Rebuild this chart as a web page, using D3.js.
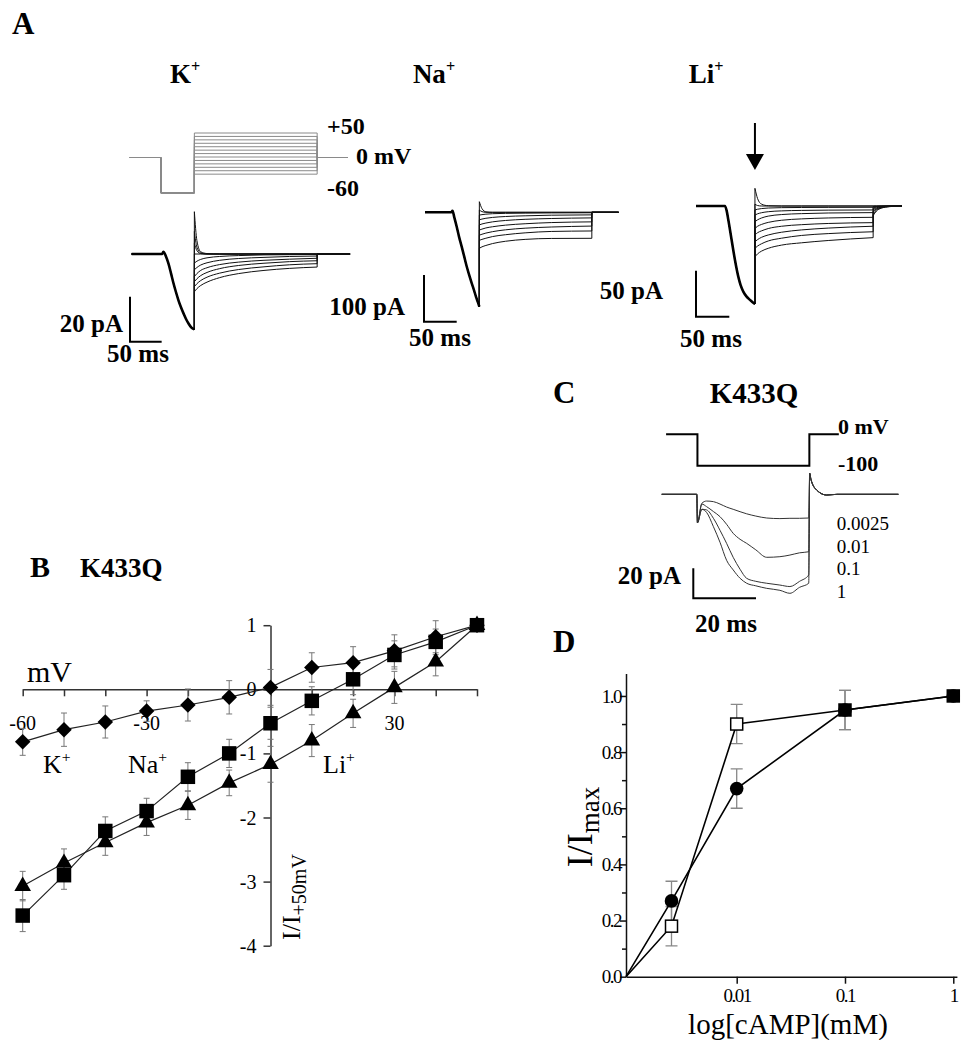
<!DOCTYPE html>
<html><head><meta charset="utf-8">
<script src="https://cdn.jsdelivr.net/npm/d3@7"></script>
<style>
body{margin:0;background:#fff}
svg{display:block}
text{font-family:"Liberation Serif","Times New Roman",serif;fill:#000}
</style>
</head><body>
<svg id="fig" width="962" height="1040"></svg>
<script>
// ================= DATA =================
// ---- Panel A : K+ ----
const kStepVolt = [50,43,36,29,22,15,8,1,-6,-13,-20,-27,-34];   // mV step family
const kPrepulse = -72;
const kProtoT = [-3, 46, 99, 293, 341];                          // ms
const kActT = [0,48,50,54,58,62,66,70,74,78,82,86,90,94,99];
const kActI = [0,0,1,-1,-4.2,-8.5,-13,-17,-20.7,-23.8,-26.5,-29,-31,-32.6,-33.5];
const kStepT = 99, kEndT = 293, kStopT = 345;
const kTailDt = [0,4,10,20,40,70,110,150,194];
const kTails = [
  [18.8,6,1,0.2,0,0,0,0,0],
  [10,3,0.5,0,0,0,0,0,0],
  [4.9,1.5,0.2,0,0,0,0,0,0],
  [0,0,0,0,0,0,0,0,0],
  [-4,-3.2,-2.4,-1.7,-1.1,-0.7,-0.4,-0.3,-0.2],
  [-7,-6,-4.9,-3.9,-2.8,-2,-1.5,-1.1,-0.9],
  [-10,-8.7,-7.3,-6.1,-4.7,-3.6,-2.8,-2.3,-1.9],
  [-12.3,-11,-9.6,-8.2,-6.5,-5.1,-4.1,-3.4,-3],
  [-14.5,-13.2,-11.8,-10.3,-8.5,-6.9,-5.7,-4.8,-4.3],
  [-16.8,-15.4,-14,-12.5,-10.5,-8.7,-7.3,-6.4,-5.8]
];
// ---- Panel A : Na+ ----
const naActT = [0,40,42,45,48.5,52,56.2,60,63.8,67.5,71.5,75,78,81,83.1];
const naActI = [0,0,3,-12,-31,-52,-74,-95,-116,-134,-152,-167,-181,-193,-202];
const naStepT = 83.1, naEndT = 255.1, naStopT = 296;
const naTailDt = [0,4,10,20,40,70,110,172];
const naTails = [
  [22.7,8,1,0,0,0,0,0],
  [5,1.5,0,0,0,0,0,0],
  [-6,-5,-4,-3,-2.3,-1.8,-1.3,-1],
  [-16,-14.5,-12.8,-11,-9,-7.5,-6.2,-5.5],
  [-27,-25,-23,-20.5,-17.5,-15,-13.3,-12],
  [-38,-36,-33.5,-31,-27.5,-24.5,-22,-20.5],
  [-49,-47,-44.5,-41.5,-37.5,-34,-31.5,-29.5],
  [-60,-58,-55.5,-52,-48,-44,-41,-40],
  [-77,-74,-71,-67,-62,-58,-56,-55.7]
];
// ---- Panel A : Li+ ----
const liActT = [0,43.5,46,48.5,53.5,58.5,63.5,67,71,76,81,85,88.5];
const liActI = [0,0,-5,-15,-37,-58.7,-76.8,-86,-93,-98.5,-102,-104.5,-106.5];
const liStepT = 88.5, liEndT = 266, liStopT = 309;
const liTailDt = [0,4,10,20,40,70,110,177.5];
const liTails = [
  [19.2,8,2,0.3,0,0,0,0],
  [2,0.5,0,0,0,0,0,0],
  [-4.3,-3.5,-2.8,-2.2,-1.8,-1.6,-1.5,-1.4],
  [-9.8,-8.5,-7.3,-6.2,-5.3,-4.8,-4.5,-4.3],
  [-17,-15,-13,-11,-9.3,-8.3,-7.6,-7.2],
  [-24.3,-22,-20,-17.8,-15.5,-14,-13,-12.3],
  [-31.5,-29,-27,-24.5,-22,-20.3,-19,-18.1],
  [-38.8,-36.5,-34,-31.5,-28.5,-26,-24,-22],
  [-46,-43.5,-41,-38,-35,-32,-30,-28],
  [-55,-52,-49,-46,-42.5,-40,-37.5,-34.4]
];
const liOffDt = [0,5,12,25,42.5];
const liOffFrac = [0.3,0.16,0.07,0.02,0];

// ---- Panel B : I-V (K433Q) ----
const ivVoltages = [-60,-50,-40,-30,-20,-10,0,10,20,30,40,50];
const ivK   = [-0.82,-0.63,-0.51,-0.34,-0.245,-0.125,0.03,0.34,0.415,0.60,0.82,1.0];
const ivKErr= [0.21,0.26,0.25,0.16,0.25,0.26,0.28,0.23,0.25,0.25,0.25,0];
const ivNa  = [-3.53,-2.9,-2.21,-1.9,-1.365,-1.0,-0.53,-0.18,0.156,0.536,0.74,1.0];
const ivNaErr=[0.25,0.22,0.22,0.2,0.22,0.22,0.25,0.22,0.24,0.22,0.2,0];
const ivLi  = [-3.07,-2.71,-2.39,-2.08,-1.81,-1.46,-1.17,-0.80,-0.375,0.03,0.43,1.0];
const ivLiErr=[0.23,0.22,0.2,0.2,0.22,0.2,0.28,0.25,0.22,0.25,0.22,0];
const ivXTickLabels = [-60,-30,30];
const ivYTicks = [1,0,-1,-2,-3,-4];

// ---- Panel C : cAMP traces ----
const cT = [0,11.2,11.4,12.8,14.3,16.5,18.6,20.7,22.8,25,27.1,30,33.5,37.7,40.9,44,46.9,47.2,47.6,49.4,52.6,56,75.5];
const cTraces = [
  [0,0,-19,-6,-4.5,-4.9,-6.5,-8.5,-10,-11.6,-13,-14.5,-15.8,-16.2,-16,-16,-15.8,14,10,2.9,-0.5,0,0],
  [0,0,-19,-6.5,-8.2,-11.5,-14.9,-20,-26,-30,-32.7,-37,-42,-41.6,-40.5,-39,-38.3,14,10,2.9,-0.5,0,0],
  [0,0,-19,-10,-10.4,-16,-24,-32.7,-42,-50,-56,-58,-59.3,-60.5,-61.5,-58,-53.8,14,10,2.9,-0.5,0,0],
  [0,0,-19,-10,-12,-21.6,-32,-44,-50.4,-56,-59.3,-61,-62.7,-64,-66,-62,-59.3,14,10,2.9,-0.5,0,0]
];
const cLabels = ["0.0025","0.01","0.1","1"];
const cVoltT = [1.4,11.4,11.4,47.1,47.1,56.5];
const cVoltV = [0,0,-100,-100,0,0];

// ---- Panel D : dose-response ----
const camp = [0,0.0025,0.01,0.1,1];
const dFilled = [0,0.27,0.67,0.95,1.0];
const dFilledErr = [0,0.07,0.07,0.07,0.015];
const dOpen = [0,0.18,0.90,0.95,1.0];
const dOpenErr = [0,0.07,0.07,0.07,0.015];
const dYTicks = [0,0.2,0.4,0.6,0.8,1.0];
const dYMinor = [0.1,0.3,0.5,0.7,0.9];
const dXTicks = [0.01,0.1,1];

// ================= DRAWING =================
const svg = d3.select("#fig");
svg.append("rect").attr("width",962).attr("height",1040).attr("fill","#fff");

function txt(g,x,y,s,size,weight,anchor){
  return g.append("text").attr("x",x).attr("y",y).attr("font-size",size)
    .attr("font-weight",weight||"normal").attr("text-anchor",anchor||"start").text(s);
}
function supText(g,x,y,base,sup,size,weight,anchor){
  const t=g.append("text").attr("x",x).attr("y",y).attr("font-size",size)
    .attr("font-weight",weight||"normal").attr("text-anchor",anchor||"start");
  t.append("tspan").text(base);
  t.append("tspan").attr("font-size",size*0.6).attr("dy",-size*0.42).text(sup);
  return t;
}

// ---------- Panel A ----------
const gA = svg.append("g");
txt(gA,12,34,"A",31,"bold");
supText(gA,185,83,"K","+",27,"bold","middle");
supText(gA,434,83,"Na","+",27,"bold","middle");
supText(gA,706,83,"Li","+",27,"bold","middle");

function drawTraces(g,x,y,actT,actI,stepT,tailDt,tails,endT,stopT,offDt,offFrac){
  const mono=d3.line().x(d=>x(d[0])).y(d=>y(d[1])).curve(d3.curveMonotoneX);
  const lin=d3.line().x(d=>x(d[0])).y(d=>y(d[1]));
  const act=actT.map((t,i)=>[t,actI[i]]);
  const last=act[act.length-1];
  tails.forEach(tail=>{
    const tp=tailDt.map((dt,i)=>[stepT+dt,tail[i]]);
    const tl=tp[tp.length-1];
    let d=mono(act)+lin([last,tp[0]])+mono(tp);
    if(offDt){
      const op=offDt.map((dt,k)=>[endT+dt,tl[1]*offFrac[k]]);
      d+=lin([tl,op[0]])+mono(op)+lin([op[op.length-1],[stopT,0]]);
    } else {
      d+=lin([tl,[endT,0],[stopT,0]]);
    }
    g.append("path").attr("d",d).attr("fill","none").attr("stroke","#111").attr("stroke-width",1);
  });
  g.append("path").attr("d",mono(act)).attr("fill","none").attr("stroke","#000").attr("stroke-width",2.6);
}
function scaleBar(g,x0,yTop,vLen,hLen){
  g.append("path").attr("d",`M${x0},${yTop}V${yTop+vLen}H${x0+hLen}`)
    .attr("fill","none").attr("stroke","#000").attr("stroke-width",2);
}

// K+ voltage protocol
const xK = d3.scaleLinear().domain([0,50]).range([131.7,163.35]);
const yK = d3.scaleLinear().domain([0,20]).range([254,209]);
const yVK = d3.scaleLinear().domain([0,50]).range([157.5,133]);
const protoLine = d3.line().x(d=>xK(d[0])).y(d=>yVK(d[1]));
kStepVolt.forEach(v=>{
  const p=[[kProtoT[0],0],[kProtoT[1],0],[kProtoT[1],kPrepulse],[kProtoT[2],kPrepulse],
           [kProtoT[2],v],[kProtoT[3],v],[kProtoT[3],0],[kProtoT[4],0]];
  gA.append("path").attr("d",protoLine(p)).attr("fill","none").attr("stroke","#8a8a8a").attr("stroke-width",1);
});
txt(gA,327,134,"+50",24,"bold");
txt(gA,356,164,"0 mV",24,"bold");
txt(gA,327,196,"-60",24,"bold");

drawTraces(gA,xK,yK,kActT,kActI,kStepT,kTailDt,kTails,kEndT,kStopT);
scaleBar(gA,130,296.7,Math.abs(yK(20)-yK(0)),xK(50)-xK(0));
txt(gA,123,332,"20 pA",25,"bold","end");
txt(gA,138,362,"50 ms",25,"bold","middle");

// Na+
const xNa = d3.scaleLinear().domain([0,50]).range([425,457.7]);
const yNa = d3.scaleLinear().domain([0,100]).range([212.3,165.6]);
drawTraces(gA,xNa,yNa,naActT,naActI,naStepT,naTailDt,naTails,naEndT,naStopT);
scaleBar(gA,424,275,Math.abs(yNa(100)-yNa(0)),xNa(50)-xNa(0));
txt(gA,405,315,"100 pA",25,"bold","end");
txt(gA,440,346,"50 ms",25,"bold","middle");

// Li+
const xLi = d3.scaleLinear().domain([0,50]).range([696,729.3]);
const yLi = d3.scaleLinear().domain([0,50]).range([206,160]);
drawTraces(gA,xLi,yLi,liActT,liActI,liStepT,liTailDt,liTails,liEndT,liStopT,liOffDt,liOffFrac);
scaleBar(gA,696,270.7,Math.abs(yLi(50)-yLi(0)),xLi(50)-xLi(0));
txt(gA,663,299,"50 pA",25,"bold","end");
txt(gA,711,347,"50 ms",25,"bold","middle");
// arrow marking the step onset
const ax = xLi(liStepT);
gA.append("line").attr("x1",ax).attr("x2",ax).attr("y1",123).attr("y2",158).attr("stroke","#000").attr("stroke-width",2);
gA.append("path").attr("d",`M${ax-9},154L${ax+9},154L${ax},170Z`).attr("fill","#000");

// ---------- Panel C ----------
const gC = svg.append("g");
txt(gC,553,403,"C",31,"bold");
txt(gC,754,403,"K433Q",29,"bold","middle");
const xC = d3.scaleLinear().domain([0,20]).range([661.7,724.4]);
const yC = d3.scaleLinear().domain([0,20]).range([494.3,464.3]);
const yVC = d3.scaleLinear().domain([-100,0]).range([465.7,434.3]);
gC.append("path").attr("d",d3.line().x((d,i)=>xC(cVoltT[i])).y(d=>yVC(d))(cVoltV))
  .attr("fill","none").attr("stroke","#000").attr("stroke-width",2);
txt(gC,838,434,"0 mV",22,"bold");
txt(gC,838,471,"-100",22,"bold");
const cLine = d3.line().x((d,i)=>xC(cT[i])).y(d=>yC(d)).curve(d3.curveMonotoneX);
cTraces.forEach(tr=>{
  gC.append("path").attr("d",cLine(tr)).attr("fill","none").attr("stroke","#333").attr("stroke-width",1);
});
const cLabY=[530,552.7,575,597.7];
cLabels.forEach((s,i)=>txt(gC,836.7,cLabY[i],s,19,"normal"));
scaleBar(gC,693.3,568.3,Math.abs(yC(20)-yC(0)),xC(20)-xC(0));
txt(gC,681,584,"20 pA",25,"bold","end");
txt(gC,726,632,"20 ms",25,"bold","middle");

// ---------- Panel B ----------
const gB = svg.append("g");
txt(gB,30,577,"B",30,"bold");
txt(gB,80,577,"K433Q",27,"bold");
const xB = d3.scaleLinear().domain([-60,50]).range([22.7,477]);
const yB = d3.scaleLinear().domain([-4,1]).range([945.7,625.2]);
const axB1 = gB.append("g").attr("transform",`translate(0,${yB(0)})`)
  .call(d3.axisBottom(xB).tickValues(ivVoltages).tickSize(7).tickSizeOuter(0).tickFormat(""));
const axB2 = gB.append("g").attr("transform",`translate(${xB(0)},0)`)
  .call(d3.axisLeft(yB).tickValues(ivYTicks).tickSize(7).tickSizeOuter(0).tickFormat(""));
[axB1,axB2].forEach(a=>{a.selectAll("path,line").attr("stroke","#333").attr("stroke-width",1.5);});
ivXTickLabels.forEach(v=>txt(gB,xB(v),730,String(v),20,"normal","middle"));
ivYTicks.forEach(v=>txt(gB,xB(0)-14,yB(v)+7,String(v),20,"normal","end"));
txt(gB,27,682,"mV",30,"normal");
const yl = gB.append("text").attr("transform",`translate(300,940) rotate(-90)`).attr("font-size",26);
yl.append("tspan").text("I/I");
yl.append("tspan").attr("font-size",20).attr("dy",6).text("+50mV");

const ivSeries = [
  {v:ivK, e:ivKErr, sym:"diamond"},
  {v:ivNa, e:ivNaErr, sym:"square"},
  {v:ivLi, e:ivLiErr, sym:"triangle"}
];
const lineB = d3.line().x((d,i)=>xB(ivVoltages[i])).y(d=>yB(d));
ivSeries.forEach(s=>{
  s.v.forEach((val,i)=>{
    if(!s.e[i]) return;
    const x=xB(ivVoltages[i]), y1=yB(val+s.e[i]), y2=yB(val-s.e[i]);
    gB.append("path").attr("d",`M${x},${y1}V${y2}M${x-3},${y1}H${x+3}M${x-3},${y2}H${x+3}`)
      .attr("stroke","#777").attr("stroke-width",1).attr("fill","none");
  });
});
ivSeries.forEach(s=>{
  gB.append("path").attr("d",lineB(s.v)).attr("fill","none").attr("stroke","#222").attr("stroke-width",1.2);
});
ivSeries.forEach(s=>{
  const sym = s.sym==="diamond"? d3.symbol(d3.symbolSquare,120)
            : s.sym==="square"? d3.symbol(d3.symbolSquare,210)
            : d3.symbol(d3.symbolTriangle,120);
  s.v.forEach((val,i)=>{
    gB.append("path").attr("d",sym())
      .attr("transform",`translate(${xB(ivVoltages[i])},${yB(val)})${s.sym==="diamond"?" rotate(45)":""}`)
      .attr("fill","#000");
  });
});
supText(gB,43,773,"K","+",26,"normal");
supText(gB,128,773,"Na","+",26,"normal");
supText(gB,323,773,"Li","+",26,"normal");

// ---------- Panel D ----------
const gD = svg.append("g");
txt(gD,553,652,"D",31,"bold");
const xD = d3.scaleLog().domain([0.00095,1.08]).range([626,956.9]);
const yD = d3.scaleLinear().domain([0,1.08]).range([976.7,673.5]);
const xDv = c => c===0 ? xD.domain()[0] : c;
const axD1 = gD.append("g").attr("transform","translate(626,0)")
  .call(d3.axisLeft(yD).tickValues(dYTicks).tickSize(6).tickSizeOuter(0).tickPadding(-1).tickFormat(d3.format(".1f")));
const axD1m = gD.append("g").attr("transform","translate(626,0)")
  .call(d3.axisLeft(yD).tickValues(dYMinor).tickSize(4).tickSizeOuter(0).tickFormat(""));
axD1m.select(".domain").remove();
const axD2 = gD.append("g").attr("transform",`translate(0,${yD(0)})`)
  .call(d3.axisBottom(xD).tickValues(dXTicks).tickSize(7).tickSizeOuter(0).tickPadding(5)
    .tickFormat(d=>d===1?"1":String(d)));
[axD1,axD1m,axD2].forEach(a=>{
  a.selectAll("path,line").attr("stroke","#111").attr("stroke-width",1.5);
  a.selectAll("text").attr("font-family","'Liberation Serif',serif").attr("font-size",19)
    .attr("letter-spacing",-1.5).attr("fill","#000");
});
const dyl = gD.append("text").attr("transform","translate(592,827) rotate(-90)")
  .attr("text-anchor","middle").attr("font-size",36);
dyl.append("tspan").text("I/I");
dyl.append("tspan").attr("font-size",27).attr("dy",7).text("max");
txt(gD,788,1034,"log[cAMP](mM)",29,"normal","middle");

const lineD = d3.line().x((d,i)=>xD(xDv(camp[i]))).y(d=>yD(d));
[[dFilled,dFilledErr],[dOpen,dOpenErr]].forEach(([vals,errs])=>{
  vals.forEach((v,i)=>{
    if(!errs[i]) return;
    const x=xD(xDv(camp[i])), y1=yD(v+errs[i]), y2=yD(v-errs[i]);
    gD.append("path").attr("d",`M${x},${y1}V${y2}M${x-6},${y1}H${x+6}M${x-6},${y2}H${x+6}`)
      .attr("stroke","#888").attr("stroke-width",1.3).attr("fill","none");
  });
});
gD.append("path").attr("d",lineD(dFilled)).attr("fill","none").attr("stroke","#000").attr("stroke-width",1.6);
gD.append("path").attr("d",lineD(dOpen)).attr("fill","none").attr("stroke","#000").attr("stroke-width",1.6);
dFilled.forEach((v,i)=>{
  if(i===0) return;
  gD.append("circle").attr("cx",xD(xDv(camp[i]))).attr("cy",yD(v)).attr("r",6.8).attr("fill","#000");
});
dOpen.forEach((v,i)=>{
  if(i===0) return;
  const same = Math.abs(v-dFilled[i])<0.005;
  gD.append("rect").attr("x",xD(xDv(camp[i]))-6).attr("y",yD(v)-6).attr("width",12).attr("height",12)
    .attr("fill",same?"#000":"#fff").attr("stroke","#000").attr("stroke-width",1.5);
});
</script>
</body></html>
